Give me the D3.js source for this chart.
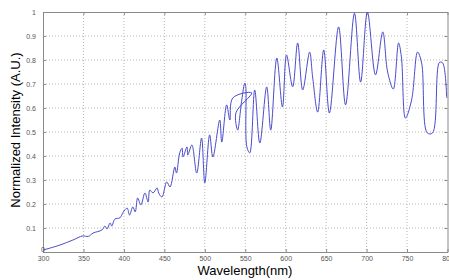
<!DOCTYPE html>
<html lang="en">
<head>
<meta charset="utf-8">
<title>Normalized Intensity vs Wavelength</title>
<script src="https://d3js.org/d3.v7.min.js"></script>
<style>
  body { margin: 0; background: #fff; }
  svg { display: block; font-family: "Liberation Sans", Arial, sans-serif; }
  .grid line { stroke: #b8b8b8; stroke-dasharray: 1,2; stroke-width: 1; }
  .axis path, .axis line { stroke: #8a8a8a; }
  .axis text { fill: #555; font-size: 7px; }
</style>
</head>
<body>
<svg width="449" height="280"></svg>
<script>
// spectrum (trace order, the loop near 550 nm included)
var wavelength = [300, 321, 337, 349, 356, 362, 373, 376.5, 379, 383, 385, 389, 395, 399,
  404, 407, 411, 414, 417, 421, 426, 430, 432, 436, 441, 443, 447, 453, 457, 463, 465,
  469, 472, 473, 478, 479, 484, 490, 496, 500, 506, 510, 518.5, 521, 527, 531, 534.6,
  558, 538.5, 540.7, 545.7, 549.4, 550.6, 552, 555.6, 561.7, 568, 576.5, 581.5, 589,
  596, 601, 608.6, 614.8, 621, 629.6, 633.3, 639.5, 647, 654, 665.4, 674, 685, 692.6,
  701, 711, 720, 726, 733, 739.5, 743, 748, 755.6, 763, 768, 775, 781.5, 790, 794, 799];
var intensity = [0.008, 0.029, 0.050, 0.067, 0.065, 0.079, 0.092, 0.108, 0.096, 0.121,
  0.108, 0.138, 0.142, 0.165, 0.183, 0.154, 0.188, 0.167, 0.225, 0.196, 0.246, 0.208,
  0.258, 0.246, 0.267, 0.246, 0.229, 0.292, 0.271, 0.354, 0.329, 0.413, 0.433, 0.396,
  0.438, 0.404, 0.446, 0.329, 0.475, 0.288, 0.488, 0.396, 0.55, 0.458, 0.613, 0.55,
  0.642, 0.663, 0.58, 0.508, 0.633, 0.704, 0.69, 0.438, 0.413, 0.675, 0.454, 0.688,
  0.508, 0.808, 0.604, 0.821, 0.688, 0.871, 0.675, 0.833, 0.729, 0.583, 0.842, 0.579,
  0.938, 0.613, 0.995, 0.708, 1.0, 0.738, 0.917, 0.75, 0.679, 0.871, 0.813, 0.558,
  0.633, 0.833, 0.788, 0.496, 0.496, 0.79, 0.788, 0.642];

var xTicks = [300, 350, 400, 450, 500, 550, 600, 650, 700, 750, 800];
var yTicks = [0, 0.1, 0.2, 0.3, 0.4, 0.5, 0.6, 0.7, 0.8, 0.9, 1];

// plot box
var boxL = 43, boxR = 447.5, boxT = 12, boxB = 252;

var svg = d3.select("svg");

var x = d3.scaleLinear().domain([300, 800]).range([boxL, boxR]);
var y = d3.scaleLinear().domain([0, 1]).range([boxB, boxT]);

// dotted grid
var grid = svg.append("g").attr("class", "grid");
grid.selectAll(".gx").data(xTicks.slice(1, -1)).enter().append("line")
  .attr("x1", d => x(d)).attr("x2", d => x(d))
  .attr("y1", boxT).attr("y2", boxB);
grid.selectAll(".gy").data(yTicks.slice(1, -1)).enter().append("line")
  .attr("x1", boxL).attr("x2", boxR)
  .attr("y1", d => y(d)).attr("y2", d => y(d));

// box axes, ticks pointing in like matlab
svg.append("g").attr("class", "axis")
  .attr("transform", "translate(0," + boxB + ")")
  .call(d3.axisBottom(x).tickValues(xTicks).tickSize(-3).tickSizeOuter(0).tickPadding(4.5));

var yAxis = svg.append("g").attr("class", "axis")
  .attr("transform", "translate(" + boxL + ",0)")
  .call(d3.axisLeft(y).tickValues(yTicks).tickSize(-3).tickSizeOuter(0).tickPadding(7)
    .tickFormat(d => d === 0 ? "0" : (d === 1 ? "1" : d3.format(".1f")(d))));

// the zero label sits right in the corner above 300
yAxis.selectAll(".tick text").filter(d => d === 0)
  .attr("x", 0).attr("dy", "-0.1em").attr("text-anchor", "middle");

svg.append("g").attr("class", "axis")
  .attr("transform", "translate(0," + boxT + ")")
  .call(d3.axisTop(x).tickValues(xTicks).tickSize(-3).tickSizeOuter(0).tickFormat(""));

svg.append("g").attr("class", "axis")
  .attr("transform", "translate(" + boxR + ",0)")
  .call(d3.axisRight(y).tickValues(yTicks).tickSize(-3).tickSizeOuter(0).tickFormat(""));

// spectrum
var pts = wavelength.map((w, i) => [w, intensity[i]]);
var line = d3.line()
  .x(d => x(d[0]))
  .y(d => y(d[1]))
  .curve(d3.curveCatmullRom.alpha(0.5));

svg.append("path")
  .datum(pts)
  .attr("d", line)
  .attr("fill", "none")
  .attr("stroke", "#4b4bcc")
  .attr("stroke-width", 1);

// axis titles
svg.append("text")
  .attr("x", 245).attr("y", 275)
  .attr("text-anchor", "middle")
  .style("font-size", "13px")
  .text("Wavelength(nm)");

svg.append("text")
  .attr("transform", "translate(20,130) rotate(-90)")
  .attr("text-anchor", "middle")
  .style("font-size", "13px")
  .text("Normalized Intensity (A.U.)");
</script>
</body>
</html>
